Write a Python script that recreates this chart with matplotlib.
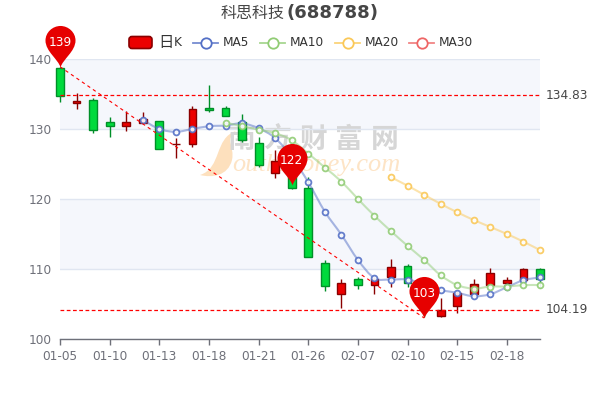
import matplotlib
matplotlib.use("Agg")
import matplotlib.pyplot as plt
from matplotlib.path import Path
from matplotlib.patches import PathPatch, FancyBboxPatch

# chart data
dates = ['01-05', '01-10', '01-13', '01-18', '01-21', '01-26', '02-07', '02-10', '02-15', '02-18']
yticks = [100, 110, 120, 130, 140]

opens = [138.7, 133.7, 134.2, 131.0, 130.4, 130.9, 131.2, 127.8, 127.9, 133.0,
         133.0, 131.0, 128.0, 123.7, 125.5, 121.6, 110.9, 106.4, 108.5, 107.7,
         108.9, 110.4, 107.5, 103.3, 104.7, 106.5, 107.7, 108.0, 108.4, 110.0]
closes = [134.7, 134.0, 129.8, 130.4, 131.0, 131.4, 127.1, 127.9, 132.9, 132.7,
          131.9, 128.5, 124.8, 125.5, 121.6, 111.7, 107.6, 108.0, 107.7, 108.6,
          110.3, 108.0, 104.2, 104.2, 106.5, 107.8, 109.4, 108.5, 110.0, 108.6]
lows = [133.8, 132.9, 129.5, 128.9, 129.7, 130.9, 127.1, 125.9, 127.5, 132.5,
        131.9, 128.2, 124.6, 123.0, 121.5, 111.7, 106.9, 104.4, 107.1, 106.5,
        107.4, 107.4, 103.1, 103.2, 103.7, 106.5, 107.7, 107.9, 108.4, 107.3]
highs = [138.9, 135.2, 134.4, 131.7, 132.6, 132.5, 131.2, 128.7, 133.3, 136.3,
         133.3, 132.2, 128.9, 127.0, 125.6, 123.1, 111.3, 108.6, 108.8, 108.9,
         111.5, 110.7, 107.8, 105.8, 106.8, 108.6, 110.2, 108.8, 110.1, 110.2]

ma5 = [131.3, 130.0, 129.6, 130.0, 130.4, 130.5, 130.8, 130.1, 128.7, 126.0,
       122.4, 118.2, 114.9, 111.3, 108.7, 108.5, 108.5, 107.8, 107.0, 106.6,
       106.1, 106.4, 107.4, 108.4, 108.8]
ma10 = [130.9, 130.4, 129.9, 129.4, 128.4, 126.5, 124.5, 122.5, 120.0, 117.6,
        115.4, 113.3, 111.3, 109.1, 107.7, 107.2, 107.5, 107.5, 107.7, 107.7]
ma20 = [123.1, 121.9, 120.6, 119.3, 118.1, 117.0, 116.0, 115.0, 113.9, 112.7]

max_idx, max_val, max_label = 0, 138.9, '139'
mid_idx, mid_val, mid_label = 14, 122.0, '122'
min_idx, min_val, min_label = 22, 103.0, '103'
hline_high = 134.83
hline_low = 104.19

UP = '#ec0000'
UP_EDGE = '#8a0000'
DOWN = '#00da3c'
DOWN_EDGE = '#008f28'
MA_COLORS = {'MA5': '#5470c6', 'MA10': '#91cc75', 'MA20': '#fac858', 'MA30': '#ee6666'}
CJK = ['Noto Sans CJK SC', 'DejaVu Sans']


def smooth_path(xs, ys):
    # catmull-rom handles, only so the line bends the way the original does
    verts = [(xs[0], ys[0])]
    codes = [Path.MOVETO]
    n = len(xs)
    for i in range(n - 1):
        x0, y0 = xs[max(i - 1, 0)], ys[max(i - 1, 0)]
        x1, y1 = xs[i], ys[i]
        x2, y2 = xs[i + 1], ys[i + 1]
        x3, y3 = xs[min(i + 2, n - 1)], ys[min(i + 2, n - 1)]
        verts += [(x1 + (x2 - x0) / 6, y1 + (y2 - y0) / 6),
                  (x2 - (x3 - x1) / 6, y2 - (y3 - y1) / 6),
                  (x2, y2)]
        codes += [Path.CURVE4] * 3
    return Path(verts, codes)


def draw_ma(ax, values, color):
    start = len(opens) - len(values)
    xs = list(range(start, len(opens)))
    ax.add_patch(PathPatch(smooth_path(xs, values), fc='none', ec=color, lw=1.5,
                           alpha=0.5, zorder=5, clip_on=False))
    ax.plot(xs, values, ls='none', marker='o', ms=4.2, mfc='#ffffff', mec=color,
            mew=1.3, zorder=6, clip_on=False, alpha=0.9)


k = 8.0
PIN = Path(
    [(0, 0), (-2, 8), (-15, 16), (-15, 27), (-15, 27 + k), (-k, 41.5), (0, 41.5),
     (k, 41.5), (15, 27 + k), (15, 27), (15, 16), (2, 8), (0, 0), (0, 0)],
    [Path.MOVETO] + [Path.CURVE4] * 12 + [Path.CLOSEPOLY])


def draw_pin(ax, idx, val, label):
    ax.plot([idx], [val], marker=PIN, ms=59.8, mfc='#e60000', mec='none', ls='none',
            zorder=9, clip_on=False)
    ax.annotate(label, (idx, val), xytext=(0, 17.4), textcoords='offset points',
                ha='center', va='center', color='#ffffff', fontsize=8.7, zorder=10)


fig = plt.figure(figsize=(6, 4), dpi=100)
fig.patch.set_facecolor('#ffffff')

# overlay in pixel coordinates for title, legend and watermark
page = fig.add_axes([0, 0, 1, 1], zorder=3)
page.set_xlim(0, 600)
page.set_ylim(400, 0)
page.axis('off')

under = fig.add_axes([0, 0, 1, 1], zorder=1)
under.set_xlim(0, 600)
under.set_ylim(400, 0)
under.axis('off')

ax = fig.add_axes([60 / 600, 61 / 400, 480 / 600, 280 / 400], zorder=2)
ax.patch.set_alpha(0)
ax.set_xlim(0, len(opens) - 1)
ax.set_ylim(100, 140)

# alternating background bands sit under the watermark
for lo, hi in zip(yticks[:-1], yticks[1:]):
    if lo in (110, 130):
        under.axhspan(339 - (hi - 100) * 7, 339 - (lo - 100) * 7, xmin=60 / 600, xmax=540 / 600,
                      fc='#f5f7fc', ec='none')

ax.set_yticks(yticks)
ax.grid(True, axis='y', color='#e0e6f1', lw=1)
ax.set_axisbelow(True)
ax.set_xticks(range(0, len(opens), 3))
ax.set_xticklabels(dates)
ax.tick_params(axis='x', color='#6e7079', labelcolor='#6e7079', labelsize=8.7, length=4, width=1, pad=4)
ax.tick_params(axis='y', length=0, labelcolor='#6e7079', labelsize=8.7, pad=6)
for name in ['top', 'left', 'right']:
    ax.spines[name].set_visible(False)
ax.spines['bottom'].set_color('#6e7079')
ax.spines['bottom'].set_linewidth(1)

# watermark
for i, ch in enumerate('南方财富网'):
    under.text(241 + i * 36, 140, ch, family=CJK, fontsize=20, fontweight='bold', color='#d6d6d6',
               ha='center', va='center')
under.text(232, 165, 'outhMoney.com', family='Liberation Serif', style='italic', fontsize=19,
           color='#fde4c6', ha='left', va='center')
under.add_patch(PathPatch(Path(
    [(236, 131), (214, 138), (222, 168), (200, 175), (212, 178), (228, 176), (232, 160),
     (235, 146), (224, 140), (236, 131)],
    [Path.MOVETO] + [Path.CURVE4] * 9), fc='#fde0bd', ec='none'))

# candles
for i in range(len(opens)):
    up = closes[i] >= opens[i]
    edge = UP_EDGE if up else DOWN_EDGE
    fill = UP if up else DOWN
    ax.vlines(i, lows[i], highs[i], color=edge, lw=1, zorder=3, clip_on=False)
    ax.bar(i, abs(closes[i] - opens[i]), bottom=min(opens[i], closes[i]), width=0.47,
           color=fill, edgecolor=edge, lw=1, zorder=4, clip_on=False)

draw_ma(ax, ma5, MA_COLORS['MA5'])
draw_ma(ax, ma10, MA_COLORS['MA10'])
draw_ma(ax, ma20, MA_COLORS['MA20'])

# mark lines
ax.plot([max_idx, min_idx], [max_val, min_val], color='#ff0000', lw=0.8, ls=(0, (3, 3)), zorder=7)
last = len(opens) - 1
for level in (hline_high, hline_low):
    ax.plot([0, last], [level, level], color='#ff0000', lw=0.9, ls=(0, (3, 2)), zorder=7)
    ax.annotate(f'{level:.2f}', (last, level), xytext=(4, 0), textcoords='offset points',
                ha='left', va='center', color='#464646', fontsize=8.7, annotation_clip=False)

draw_pin(ax, max_idx, max_val, max_label)
draw_pin(ax, mid_idx, mid_val, mid_label)
draw_pin(ax, min_idx, min_val, min_label)

# title
page.text(285, 13, '科思科技', family=CJK, fontsize=11.5, color='#464646', ha='right', va='center')
page.text(286, 13, '(688788)', fontsize=13, fontweight='bold', color='#464646', ha='left', va='center')

# legend
page.add_patch(FancyBboxPatch((129, 36.5), 23, 12, boxstyle='round,pad=0,rounding_size=3',
                              fc=UP, ec=UP_EDGE, lw=1.2))
page.text(158, 42, '日', family=CJK, fontsize=11, color='#333333', ha='left', va='center')
page.text(174, 43, 'K', fontsize=8.7, color='#333333', ha='left', va='center')
for name, x0 in zip(MA_COLORS, [193, 260, 335, 409]):
    c = MA_COLORS[name]
    page.plot([x0, x0 + 25], [42.5, 42.5], color=c, lw=1.3, alpha=0.8)
    page.plot([x0 + 12.5], [42.5], marker='o', ms=7.5, mfc='#ffffff', mec=c, mew=1.3)
    page.text(x0 + 30, 43, name, fontsize=8.7, color='#333333', ha='left', va='center')
page.set_xlim(0, 600)
page.set_ylim(400, 0)

fig.savefig('out.png', dpi=100)
